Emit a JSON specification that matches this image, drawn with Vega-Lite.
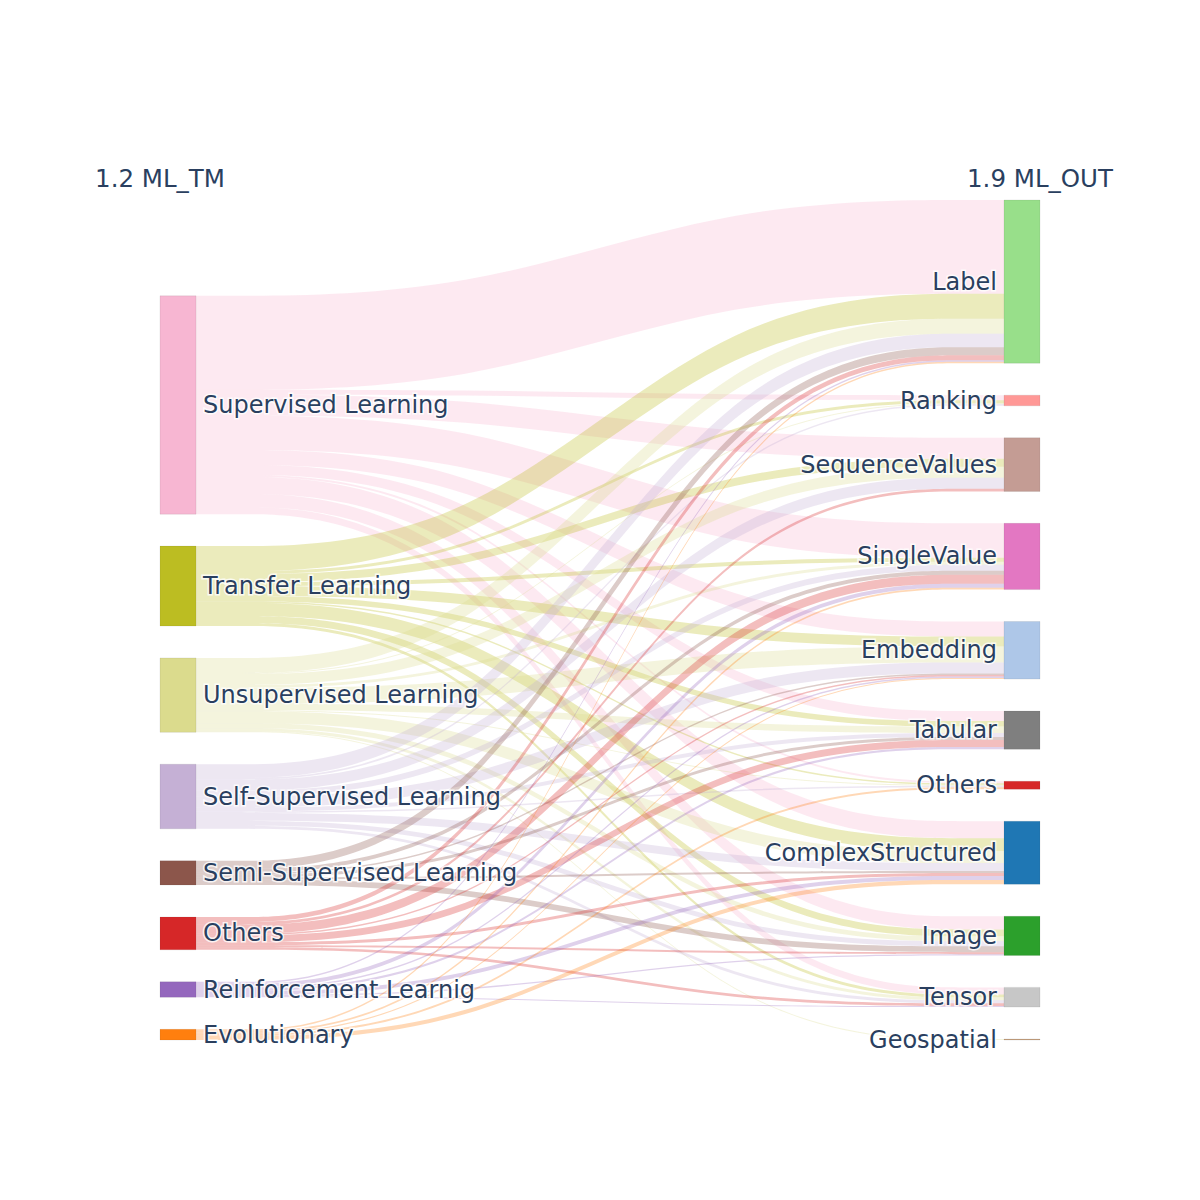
{
  "$schema": "https://vega.github.io/schema/vega-lite/v6.json",
  "width": 880,
  "height": 840,
  "autosize": {"type": "none"},
  "padding": {"left": 160, "top": 200, "right": 160, "bottom": 160},
  "background": "white",
  "config": {"view": {"stroke": null}},
  "datasets": {
    "links": [
      {"source": "Supervised Learning", "target": "Label", "value": 94},
      {"source": "Supervised Learning", "target": "Ranking", "value": 5},
      {"source": "Supervised Learning", "target": "SequenceValues", "value": 21},
      {"source": "Supervised Learning", "target": "SingleValue", "value": 34.5},
      {"source": "Supervised Learning", "target": "Embedding", "value": 15},
      {"source": "Supervised Learning", "target": "Tabular", "value": 10},
      {"source": "Supervised Learning", "target": "Others", "value": 2},
      {"source": "Supervised Learning", "target": "ComplexStructured", "value": 17},
      {"source": "Supervised Learning", "target": "Image", "value": 13.2},
      {"source": "Supervised Learning", "target": "Tensor", "value": 7},
      {"source": "Transfer Learning", "target": "Label", "value": 25},
      {"source": "Transfer Learning", "target": "Ranking", "value": 3},
      {"source": "Transfer Learning", "target": "SequenceValues", "value": 8},
      {"source": "Transfer Learning", "target": "SingleValue", "value": 4},
      {"source": "Transfer Learning", "target": "Embedding", "value": 10},
      {"source": "Transfer Learning", "target": "Tabular", "value": 5.5},
      {"source": "Transfer Learning", "target": "Others", "value": 1.5},
      {"source": "Transfer Learning", "target": "ComplexStructured", "value": 13},
      {"source": "Transfer Learning", "target": "Image", "value": 7},
      {"source": "Transfer Learning", "target": "Tensor", "value": 3},
      {"source": "Unsupervised Learning", "target": "Label", "value": 15},
      {"source": "Unsupervised Learning", "target": "Ranking", "value": 1},
      {"source": "Unsupervised Learning", "target": "SequenceValues", "value": 11},
      {"source": "Unsupervised Learning", "target": "SingleValue", "value": 3},
      {"source": "Unsupervised Learning", "target": "Embedding", "value": 16},
      {"source": "Unsupervised Learning", "target": "Tabular", "value": 6.5},
      {"source": "Unsupervised Learning", "target": "Others", "value": 1},
      {"source": "Unsupervised Learning", "target": "ComplexStructured", "value": 12},
      {"source": "Unsupervised Learning", "target": "Image", "value": 5},
      {"source": "Unsupervised Learning", "target": "Tensor", "value": 3},
      {"source": "Unsupervised Learning", "target": "Geospatial", "value": 1},
      {"source": "Self-Supervised Learning", "target": "Label", "value": 13.5},
      {"source": "Self-Supervised Learning", "target": "Ranking", "value": 1.7},
      {"source": "Self-Supervised Learning", "target": "SequenceValues", "value": 11},
      {"source": "Self-Supervised Learning", "target": "SingleValue", "value": 6},
      {"source": "Self-Supervised Learning", "target": "Embedding", "value": 11},
      {"source": "Self-Supervised Learning", "target": "Tabular", "value": 4},
      {"source": "Self-Supervised Learning", "target": "Others", "value": 1.5},
      {"source": "Self-Supervised Learning", "target": "ComplexStructured", "value": 8},
      {"source": "Self-Supervised Learning", "target": "Image", "value": 5},
      {"source": "Self-Supervised Learning", "target": "Tensor", "value": 3},
      {"source": "Semi-Supervised Learning", "target": "Label", "value": 8},
      {"source": "Semi-Supervised Learning", "target": "SingleValue", "value": 4},
      {"source": "Semi-Supervised Learning", "target": "Embedding", "value": 1.5},
      {"source": "Semi-Supervised Learning", "target": "Tabular", "value": 3},
      {"source": "Semi-Supervised Learning", "target": "ComplexStructured", "value": 2},
      {"source": "Semi-Supervised Learning", "target": "Image", "value": 5.8},
      {"source": "Others", "target": "Label", "value": 5},
      {"source": "Others", "target": "SequenceValues", "value": 2.7},
      {"source": "Others", "target": "SingleValue", "value": 9},
      {"source": "Others", "target": "Embedding", "value": 1.5},
      {"source": "Others", "target": "Tabular", "value": 7},
      {"source": "Others", "target": "ComplexStructured", "value": 3},
      {"source": "Others", "target": "Image", "value": 2},
      {"source": "Others", "target": "Tensor", "value": 2.7},
      {"source": "Reinforcement Learnig", "target": "Label", "value": 1.5},
      {"source": "Reinforcement Learnig", "target": "SingleValue", "value": 4},
      {"source": "Reinforcement Learnig", "target": "Embedding", "value": 1.5},
      {"source": "Reinforcement Learnig", "target": "Tabular", "value": 2.3},
      {"source": "Reinforcement Learnig", "target": "ComplexStructured", "value": 4},
      {"source": "Reinforcement Learnig", "target": "Image", "value": 1.3},
      {"source": "Reinforcement Learnig", "target": "Tensor", "value": 1},
      {"source": "Evolutionary", "target": "Label", "value": 1.5},
      {"source": "Evolutionary", "target": "SingleValue", "value": 1.8},
      {"source": "Evolutionary", "target": "Embedding", "value": 1.2},
      {"source": "Evolutionary", "target": "Others", "value": 2},
      {"source": "Evolutionary", "target": "ComplexStructured", "value": 4.2}
    ]
  },
  "data": {"name": "links"},
  "transform": [
    {"calculate": "indexof(['Supervised Learning','Transfer Learning','Unsupervised Learning','Self-Supervised Learning','Semi-Supervised Learning','Others','Reinforcement Learnig','Evolutionary'], datum.source)", "as": "si"},
    {"calculate": "indexof(['Label','Ranking','SequenceValues','SingleValue','Embedding','Tabular','Others','ComplexStructured','Image','Tensor','Geospatial'], datum.target)", "as": "ti"},
    {"window": [{"op": "sum", "field": "value", "as": "cs"}], "sort": [{"field": "si"}, {"field": "ti"}], "frame": [null, 0]},
    {"window": [{"op": "sum", "field": "value", "as": "ct"}], "sort": [{"field": "ti"}, {"field": "si"}], "frame": [null, 0]},
    {"calculate": "datum.cs + 32 * datum.si + 96", "as": "ys1"},
    {"calculate": "datum.ys1 - datum.value", "as": "ys0"},
    {"calculate": "datum.ct + 32 * datum.ti", "as": "yt1"},
    {"calculate": "datum.yt1 - datum.value", "as": "yt0"}
  ],
  "resolve": {"scale": {"color": "shared", "x": "shared", "y": "shared"}},
  "layer": [
    {
      "transform": [
        {"calculate": "datum.source + '|' + datum.target", "as": "id"},
        {"fold": ["ys0", "ys1", "yt0", "yt1"], "as": ["end", "endY"]},
        {"calculate": "indexof(['ys0', 'ys1', 'yt0', 'yt1'], datum.end)", "as": "k"},
        {"calculate": "datum.k / 3", "as": "px"},
        {"calculate": "datum.k < 2 ? datum.ys0 : datum.yt0", "as": "yA"},
        {"calculate": "datum.k < 2 ? datum.ys1 : datum.yt1", "as": "yB"}
      ],
      "mark": {"type": "area", "interpolate": "basis", "fillOpacity": 0.3},
      "encoding": {
        "x": {"field": "px", "type": "quantitative", "axis": null,
              "scale": {"domain": [-0.04455, 1.04455], "nice": false, "zero": false}},
        "y": {"field": "yA", "type": "quantitative", "axis": null,
              "scale": {"domain": [0, 841.4], "reverse": true, "nice": false, "zero": false}},
        "y2": {"field": "yB"},
        "color": {"field": "source", "type": "nominal", "legend": null,
          "scale": {
            "domain": ["Supervised Learning","Transfer Learning","Unsupervised Learning","Self-Supervised Learning","Semi-Supervised Learning","Others","Reinforcement Learnig","Evolutionary","Label","Ranking","SequenceValues","SingleValue","Embedding","Tabular","ComplexStructured","Image","Tensor","Geospatial"],
            "range": ["#f7b6d2","#bcbd22","#dbdb8d","#c5b0d5","#8c564b","#d62728","#9467bd","#ff7f0e","#98df8a","#ff9896","#c49c94","#e377c2","#aec7e8","#7f7f7f","#1f77b4","#2ca02c","#c7c7c7","#c9a27e"]
          }},
        "detail": {"field": "id", "type": "nominal"}
      }
    },
    {
      "transform": [
        {"aggregate": [{"op": "min", "field": "ys0", "as": "y0"}, {"op": "max", "field": "ys1", "as": "y1"}], "groupby": ["source"]}
      ],
      "mark": {"type": "rect", "stroke": "#444", "strokeWidth": 0.5, "strokeOpacity": 0.2},
      "encoding": {
        "x": {"datum": -0.04455, "type": "quantitative"},
        "x2": {"datum": 0},
        "y": {"field": "y0", "type": "quantitative"},
        "y2": {"field": "y1"},
        "color": {"field": "source", "type": "nominal", "legend": null}
      }
    },
    {
      "transform": [
        {"aggregate": [{"op": "min", "field": "yt0", "as": "y0"}, {"op": "max", "field": "yt1", "as": "y1"}], "groupby": ["target"]}
      ],
      "mark": {"type": "rect", "stroke": "#444", "strokeWidth": 0.5, "strokeOpacity": 0.2},
      "encoding": {
        "x": {"datum": 1, "type": "quantitative"},
        "x2": {"datum": 1.04455},
        "y": {"field": "y0", "type": "quantitative"},
        "y2": {"field": "y1"},
        "color": {"field": "target", "type": "nominal", "legend": null}
      }
    },
    {
      "transform": [
        {"aggregate": [{"op": "min", "field": "ys0", "as": "y0"}, {"op": "max", "field": "ys1", "as": "y1"}], "groupby": ["source"]},
        {"calculate": "(datum.y0 + datum.y1) / 2", "as": "ym"}
      ],
      "mark": {"type": "text", "align": "left", "baseline": "middle", "dx": 7, "dy": 1, "font": "DejaVu Sans", "fontSize": 24, "stroke": "white", "strokeWidth": 3, "strokeOpacity": 0.8, "fill": "white"},
      "encoding": {
        "x": {"datum": 0, "type": "quantitative"},
        "y": {"field": "ym", "type": "quantitative"},
        "text": {"field": "source"}
      }
    },
    {
      "transform": [
        {"aggregate": [{"op": "min", "field": "ys0", "as": "y0"}, {"op": "max", "field": "ys1", "as": "y1"}], "groupby": ["source"]},
        {"calculate": "(datum.y0 + datum.y1) / 2", "as": "ym"}
      ],
      "mark": {"type": "text", "align": "left", "baseline": "middle", "dx": 7, "dy": 1, "font": "DejaVu Sans", "fontSize": 24, "fill": "#2a3f5f"},
      "encoding": {
        "x": {"datum": 0, "type": "quantitative"},
        "y": {"field": "ym", "type": "quantitative"},
        "text": {"field": "source"}
      }
    },
    {
      "transform": [
        {"aggregate": [{"op": "min", "field": "yt0", "as": "y0"}, {"op": "max", "field": "yt1", "as": "y1"}], "groupby": ["target"]},
        {"calculate": "(datum.y0 + datum.y1) / 2", "as": "ym"}
      ],
      "mark": {"type": "text", "align": "right", "baseline": "middle", "dx": -7, "dy": 1, "font": "DejaVu Sans", "fontSize": 24, "stroke": "white", "strokeWidth": 3, "strokeOpacity": 0.8, "fill": "white"},
      "encoding": {
        "x": {"datum": 1, "type": "quantitative"},
        "y": {"field": "ym", "type": "quantitative"},
        "text": {"field": "target"}
      }
    },
    {
      "transform": [
        {"aggregate": [{"op": "min", "field": "yt0", "as": "y0"}, {"op": "max", "field": "yt1", "as": "y1"}], "groupby": ["target"]},
        {"calculate": "(datum.y0 + datum.y1) / 2", "as": "ym"}
      ],
      "mark": {"type": "text", "align": "right", "baseline": "middle", "dx": -7, "dy": 1, "font": "DejaVu Sans", "fontSize": 24, "fill": "#2a3f5f"},
      "encoding": {
        "x": {"datum": 1, "type": "quantitative"},
        "y": {"field": "ym", "type": "quantitative"},
        "text": {"field": "target"}
      }
    },
    {
      "data": {"values": [{"column": "1.2 ML_TM"}]},
      "mark": {"type": "text", "align": "center", "baseline": "middle", "dy": -20, "font": "DejaVu Sans", "fontSize": 24.5, "fill": "#2a3f5f"},
      "encoding": {
        "x": {"datum": -0.04455, "type": "quantitative"},
        "y": {"datum": 0, "type": "quantitative"},
        "text": {"field": "column"}
      }
    },
    {
      "data": {"values": [{"column": "1.9 ML_OUT"}]},
      "mark": {"type": "text", "align": "center", "baseline": "middle", "dy": -20, "font": "DejaVu Sans", "fontSize": 24.5, "fill": "#2a3f5f"},
      "encoding": {
        "x": {"datum": 1.04455, "type": "quantitative"},
        "y": {"datum": 0, "type": "quantitative"},
        "text": {"field": "column"}
      }
    }
  ]
}
